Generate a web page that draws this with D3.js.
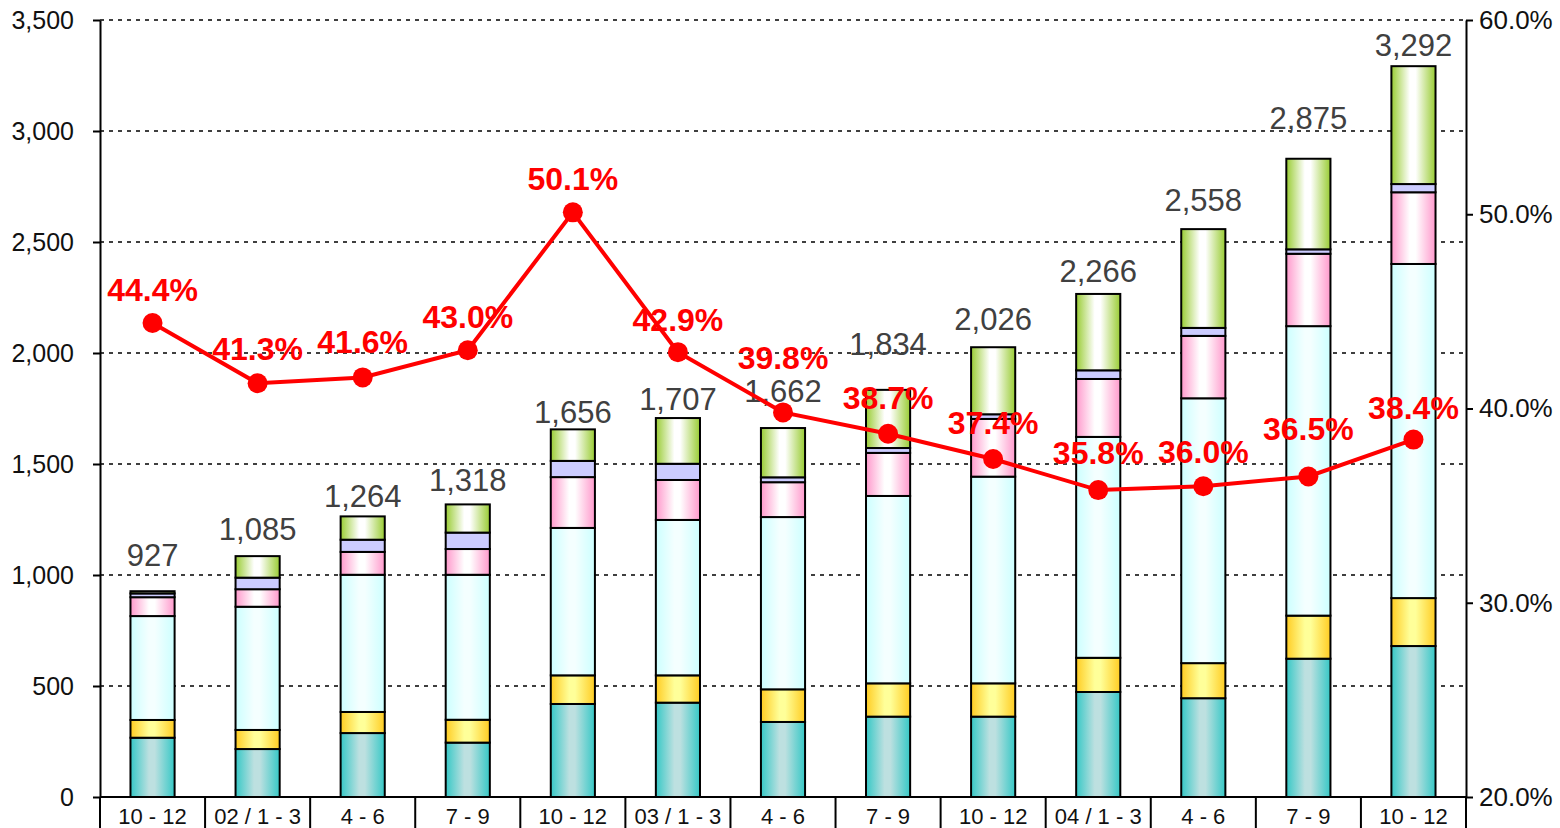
<!DOCTYPE html>
<html lang="en">
<head>
<meta charset="utf-8">
<title>Stacked bars with ratio line</title>
<script src="https://cdn.jsdelivr.net/npm/d3@7"></script>
<style>
    body { margin: 0; background: #fff; }
    svg { display: block; font-family: "Liberation Sans", Arial, sans-serif; }
    .grid line { stroke: #000; stroke-width: 1.5; stroke-dasharray: 4, 5; }
    .axis path, .axis line { stroke: #000; stroke-width: 2; }
    .axis text { font-size: 25px; fill: #111; }
    .axis.right text { font-size: 26px; }
    .seg { stroke: #000; stroke-width: 2; }
    .total { font-size: 31px; fill: #404040; text-anchor: middle; }
    .pct { font-size: 32px; font-weight: bold; fill: #ff0000; text-anchor: middle; }
    .cat { font-size: 22px; fill: #111; text-anchor: middle; }
</style>
</head>
<body>
<script>
    var categories = ["10 - 12", "02 / 1 - 3", "4 - 6", "7 - 9", "10 - 12", "03 / 1 - 3", "4 - 6",
                      "7 - 9", "10 - 12", "04 / 1 - 3", "4 - 6", "7 - 9", "10 - 12"];

    // stacked series, bottom to top
    var teal     = [267, 216, 288, 245, 419, 425, 338, 362, 362, 473, 445, 623, 680];
    var yellow   = [80, 86, 95, 103, 129, 123, 147, 150, 150, 154, 158, 194, 216];
    var cyan     = [468, 555, 618, 653, 664, 700, 776, 844, 931, 995, 1193, 1304, 1505];
    var pink     = [85, 79, 103, 116, 229, 180, 157, 194, 260, 261, 281, 326, 323];
    var lavender = [17, 52, 55, 74, 73, 73, 22, 22, 21, 39, 36, 20, 37];
    var green    = [10, 97, 105, 127, 142, 206, 222, 262, 302, 344, 445, 408, 531];
    var totals   = [927, 1085, 1264, 1318, 1656, 1707, 1662, 1834, 2026, 2266, 2558, 2875, 3292];
    var ratio    = [44.4, 41.3, 41.6, 43.0, 50.1, 42.9, 39.8, 38.7, 37.4, 35.8, 36.0, 36.5, 38.4];

    var leftTicks  = [0, 500, 1000, 1500, 2000, 2500, 3000, 3500];
    var rightTicks = [20, 30, 40, 50, 60];

    // label gaps (px above bar top / marker) as placed in the original
    var totalGap = [25, 16, 9, 13, 6, 8, 26, 35, 17, 12, 18, 30, 10];
    var pctGap   = [22, 23, 24, 22, 22, 21, 43, 25, 25, 26, 23, 36, 21];

    var w = 1560, h = 828;
    var plotLeft = 100, plotRight = 1466, plotTop = 20, plotBottom = 797;

    var keys = ["teal", "yellow", "cyan", "pink", "lavender", "green"];
    var seriesData = { teal: teal, yellow: yellow, cyan: cyan, pink: pink, lavender: lavender, green: green };
    var fills = {
        teal:     ["#36c8c6", "#bde0e0"],
        yellow:   ["#ffcc22", "#ffff99"],
        cyan:     ["#ccffff", "#f4ffff"],
        pink:     ["#ff99cc", "#ffffff"],
        lavender: ["#ccccff", "#ccccff"],
        green:    ["#99cc33", "#ffffff"]
    };

    var rows = categories.map(function(c, i) {
        var r = { idx: i };
        keys.forEach(function(k) { r[k] = seriesData[k][i]; });
        return r;
    });

    var x = d3.scaleBand()
        .domain(d3.range(categories.length))
        .range([plotLeft, plotRight])
        .paddingInner(0.58)
        .paddingOuter(0.29);

    var y = d3.scaleLinear().domain([0, 3500]).range([plotBottom, plotTop]);
    var yR = d3.scaleLinear().domain([20, 60]).range([plotBottom, plotTop]);

    var svg = d3.select("body").append("svg")
        .attr("width", w)
        .attr("height", h);

    var defs = svg.append("defs");
    keys.forEach(function(k) {
        var g = defs.append("linearGradient")
            .attr("id", "g-" + k)
            .attr("x1", "0%").attr("x2", "100%").attr("y1", "0%").attr("y2", "0%");
        g.append("stop").attr("offset", "0%").attr("stop-color", fills[k][0]);
        g.append("stop").attr("offset", "42%").attr("stop-color", fills[k][1]);
        g.append("stop").attr("offset", "55%").attr("stop-color", fills[k][1]);
        g.append("stop").attr("offset", "100%").attr("stop-color", fills[k][0]);
    });

    // grid
    svg.append("g")
        .attr("class", "grid")
        .selectAll("line")
        .data(leftTicks.filter(function(d) { return d > 0; }))
        .enter().append("line")
        .attr("x1", plotLeft).attr("x2", plotRight)
        .attr("y1", function(d) { return y(d); })
        .attr("y2", function(d) { return y(d); });

    // bars
    var stack = d3.stack().keys(keys)(rows);
    svg.append("g").selectAll("g")
        .data(stack)
        .enter().append("g")
        .attr("fill", function(d) { return "url(#g-" + d.key + ")"; })
        .selectAll("rect")
        .data(function(d) { return d; })
        .enter().append("rect")
        .attr("class", "seg")
        .attr("x", function(d) { return x(d.data.idx); })
        .attr("width", x.bandwidth())
        .attr("y", function(d) { return y(d[1]); })
        .attr("height", function(d) { return y(d[0]) - y(d[1]); });

    // totals
    svg.append("g").selectAll("text")
        .data(totals)
        .enter().append("text")
        .attr("class", "total")
        .attr("x", function(d, i) { return x(i) + x.bandwidth() / 2; })
        .attr("y", function(d, i) { return y(d) - totalGap[i]; })
        .text(function(d) { return d3.format(",")(d); });

    // axes
    svg.append("g")
        .attr("class", "axis")
        .attr("transform", "translate(" + plotLeft + ",0)")
        .call(d3.axisLeft(y).tickValues(leftTicks).tickFormat(d3.format(",")).tickSize(7).tickSizeOuter(0).tickPadding(19));

    svg.append("g")
        .attr("class", "axis right")
        .attr("transform", "translate(" + plotRight + ",0)")
        .call(d3.axisRight(yR).tickValues(rightTicks)
            .tickFormat(function(d) { return d.toFixed(1) + "%"; })
            .tickSize(7).tickSizeOuter(0).tickPadding(6));

    // category axis with separators
    svg.append("line")
        .attr("x1", plotLeft).attr("x2", plotRight)
        .attr("y1", plotBottom).attr("y2", plotBottom)
        .attr("stroke", "#000").attr("stroke-width", 2);

    svg.append("g").selectAll("line")
        .data(d3.range(categories.length + 1))
        .enter().append("line")
        .attr("x1", function(i) { return plotLeft + i * x.step(); })
        .attr("x2", function(i) { return plotLeft + i * x.step(); })
        .attr("y1", plotBottom).attr("y2", h)
        .attr("stroke", "#000").attr("stroke-width", 2);

    svg.append("g").selectAll("text")
        .data(categories)
        .enter().append("text")
        .attr("class", "cat")
        .attr("x", function(d, i) { return x(i) + x.bandwidth() / 2; })
        .attr("y", 824)
        .text(function(d) { return d; });

    // ratio line
    var line = d3.line()
        .x(function(d, i) { return x(i) + x.bandwidth() / 2; })
        .y(function(d) { return yR(d); });

    svg.append("path")
        .datum(ratio)
        .attr("d", line)
        .attr("fill", "none")
        .attr("stroke", "#ff0000")
        .attr("stroke-width", 4);

    svg.append("g").selectAll("circle")
        .data(ratio)
        .enter().append("circle")
        .attr("cx", function(d, i) { return x(i) + x.bandwidth() / 2; })
        .attr("cy", function(d) { return yR(d); })
        .attr("r", 10)
        .attr("fill", "#ff0000");

    svg.append("g").selectAll("text")
        .data(ratio)
        .enter().append("text")
        .attr("class", "pct")
        .attr("x", function(d, i) { return x(i) + x.bandwidth() / 2; })
        .attr("y", function(d, i) { return yR(d) - pctGap[i]; })
        .text(function(d) { return d.toFixed(1) + "%"; });
</script>
</body>
</html>
